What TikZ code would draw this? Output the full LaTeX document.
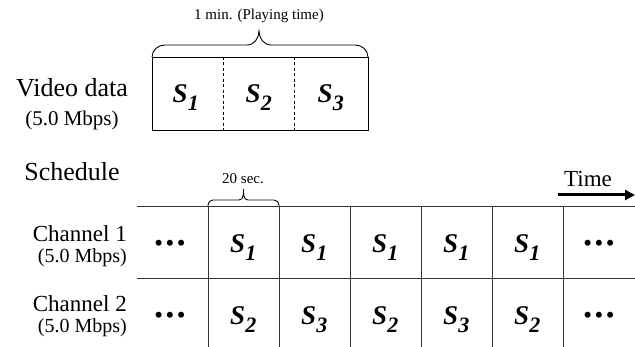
\documentclass[tikz,border=0pt]{standalone}
\usepackage{fontspec}
\setmainfont{Liberation Serif}
\usetikzlibrary{arrows.meta}
\tikzset{
  lbl/.style={inner sep=0pt, anchor=base},
  seg/.style={inner sep=0pt, anchor=base, font=\fontsize{27}{28}\selectfont\bfseries\itshape},
  dots/.style={inner sep=0pt, anchor=center, font=\fontsize{22}{22}\selectfont\bfseries},
  grid/.style={draw=black!80, line width=0.9pt},
  bx/.style={draw=black, line width=0.9pt},
  brc/.style={draw=black, line width=0.9pt},
}
\newcommand{\Sg}[1]{S\textsubscript{\raisebox{-0.4ex}{\fontsize{22}{22}\selectfont #1}}}
\newcommand{\tdots}{\textbullet\hspace{3.5pt}\textbullet\hspace{3.5pt}\textbullet}
\begin{document}
\begin{tikzpicture}[x=1pt,y=-1pt]
\useasboundingbox (0,0) rectangle (635,347);
% Video data
\node[lbl, font=\fontsize{26}{28}\selectfont] (vd) at (72,97) {Video data};
\node[lbl, font=\fontsize{21}{24}\selectfont] (vdr) at (72,126) {(5.0 Mbps)};
\draw[bx] (152,57) rectangle (368,130);
\draw[bx, dashed, dash pattern=on 3pt off 2.5pt] (223,57) -- (223,130);
\draw[bx, dashed, dash pattern=on 3pt off 2.5pt] (294,57) -- (294,130);
\node[seg] (v1) at (186,103) {\Sg{1}};
\node[seg] (v2) at (259,103) {\Sg{2}};
\node[seg] (v3) at (331,103) {\Sg{3}};
% big brace
\draw[brc] (152,57) to[out=90,in=180] (165,45) -- (247,45) to[out=0,in=-90] (259,31)
  to[out=-90,in=180] (271,45) -- (355,45) to[out=0,in=90] (368,57);
\node[lbl, font=\fontsize{15}{17}\selectfont] (bt) at (259,20) {1 min. (Playing time)};
% Schedule
\node[lbl, font=\fontsize{26}{28}\selectfont] (sch) at (72,181) {Schedule};
\node[lbl, font=\fontsize{15}{17}\selectfont] (st) at (243,184) {20 sec.};
\draw[brc] (208,206) -- (208,205) to[out=90,in=180] (213,200) -- (239,200) to[out=0,in=-90] (243.5,189)
  to[out=-90,in=180] (248,200) -- (274,200) to[out=0,in=90] (279,205) -- (279,206);
% Time arrow
\node[lbl, font=\fontsize{23}{25}\selectfont] (tm) at (588,187) {Time};
\coordinate (ta) at (558,195);
\coordinate (tb) at (635,195);
\draw[line width=3pt, -{Triangle[length=10pt,width=10pt]}] (ta) -- (tb);
% grid
\draw[grid] (137,206) -- (635,206);
\draw[grid] (137,278) -- (635,278);
\foreach \x in {208,279,350,421,492,563} \draw[grid] (\x,206) -- (\x,347);
% channel labels
\node[lbl, anchor=base east, font=\fontsize{23}{25}\selectfont] (c1) at (127,242) {Channel 1};
\node[lbl, anchor=base east, font=\fontsize{20}{22}\selectfont] (c1r) at (127,263) {(5.0 Mbps)};
\node[lbl, anchor=base east, font=\fontsize{23}{25}\selectfont] (c2) at (127,312) {Channel 2};
\node[lbl, anchor=base east, font=\fontsize{20}{22}\selectfont] (c2r) at (127,333) {(5.0 Mbps)};
% row 1
\node[dots] (d11) at (170,245) {\tdots};
\node[seg] (r11) at (243.5,253) {\Sg{1}};
\node[seg] (r12) at (314.5,253) {\Sg{1}};
\node[seg] (r13) at (385.5,253) {\Sg{1}};
\node[seg] (r14) at (456.5,253) {\Sg{1}};
\node[seg] (r15) at (527.5,253) {\Sg{1}};
\node[dots] (d12) at (599,245) {\tdots};
% row 2
\node[dots] (d21) at (170,317) {\tdots};
\node[seg] (r21) at (243.5,325) {\Sg{2}};
\node[seg] (r22) at (314.5,325) {\Sg{3}};
\node[seg] (r23) at (385.5,325) {\Sg{2}};
\node[seg] (r24) at (456.5,325) {\Sg{3}};
\node[seg] (r25) at (527.5,325) {\Sg{2}};
\node[dots] (d22) at (599,317) {\tdots};
\end{tikzpicture}
\end{document}
